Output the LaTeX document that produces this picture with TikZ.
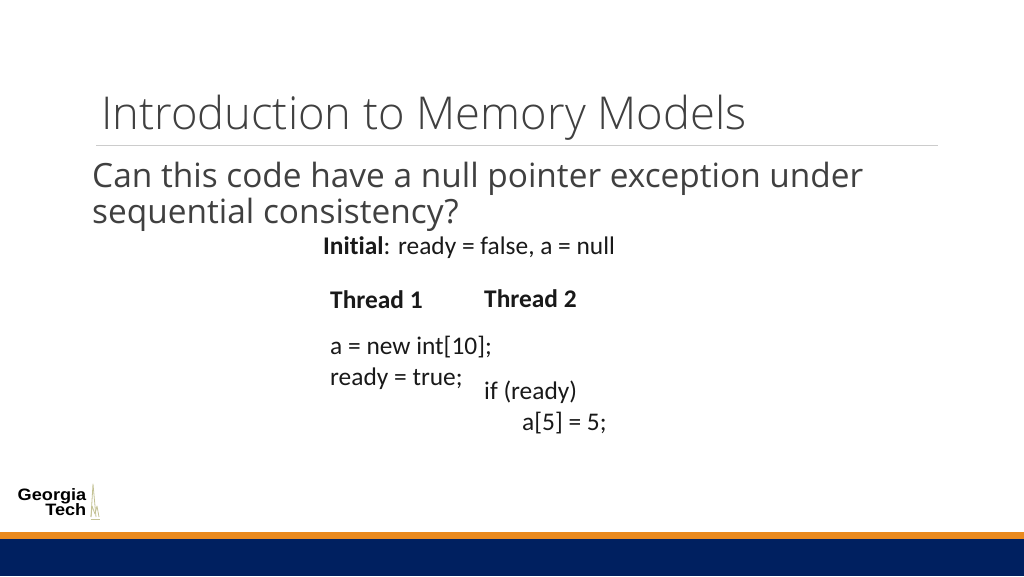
\documentclass[tikz,border=0pt]{standalone}
\usepackage{fontspec}
\setmainfont[Ligatures=NoCommon]{Carlito}
\newfontfamily\headfont{Open Sans Light}
\newfontfamily\bodyfont{Open Sans}
\newfontfamily\logofont{Liberation Sans}
\definecolor{titlec}{HTML}{404040}
\definecolor{navy}{HTML}{002060}
\definecolor{orangeb}{HTML}{EA8A1E}
\definecolor{towerc}{HTML}{C4C295}
\tikzset{txt/.style={anchor=base west,inner sep=0pt,text=black!90},
 title/.style={txt,text=titlec,font=\headfont\fontsize{45.3}{45.3}\selectfont},
 sub/.style={txt,text=titlec,font=\bodyfont\fontsize{33.4}{33.4}\selectfont},
 code/.style={txt,font=\fontsize{25.4}{25.4}\selectfont},
 logo/.style={anchor=base east,inner sep=0pt,text=black,font=\logofont\bfseries\fontsize{16.5}{16.5}\selectfont},
 tower/.style={draw=towerc,line width=0.8pt,line join=round}}
\begin{document}
\begin{tikzpicture}[x=1pt,y=-1pt]
\useasboundingbox (0,0) rectangle (1024,576);
\fill[white] (0,0) rectangle (1024,576);
\node[title] (t) at (101,129) {Introduction to Memory Models};
\draw[black!20,line width=1pt] (96,145.5) -- (938,145.5);
\node[sub] (s1) at (92,187) {Can this code have a null pointer exception under};
\node[sub] (s2) at (92,223) {sequential consistency?};
\node[code] (i) at (323,254) {\textbf{Initial}: ready = false, a = null};
\node[code] (t1) at (330,308) {\textbf{Thread 1}};
\node[code] (t2) at (484,307) {\textbf{Thread 2}};
\node[code] (c1) at (330,354) {a = new int[10];};
\node[code] (c2) at (330,385) {ready = true;};
\node[code] (c3) at (484,399) {if (ready)};
\node[code] (c4) at (522,430) {a[5] = 5;};
\node[logo] (g1) at (86.5,500.5) {\scalebox{1.1}[1]{Georgia}};
\node[logo] (g2) at (86.5,515) {\scalebox{1.1}[1]{Tech}};
\draw[tower] (91,517) -- (93,484) -- (96,517);
\draw[tower] (91,517) -- (92,506) -- (95,514) -- (97,506) -- (99,517);
\draw[tower] (90.5,519) -- (100,519);
\fill[orangeb] (0,532) rectangle (1024,539);
\fill[navy] (0,539) rectangle (1024,576);
\end{tikzpicture}
\end{document}
